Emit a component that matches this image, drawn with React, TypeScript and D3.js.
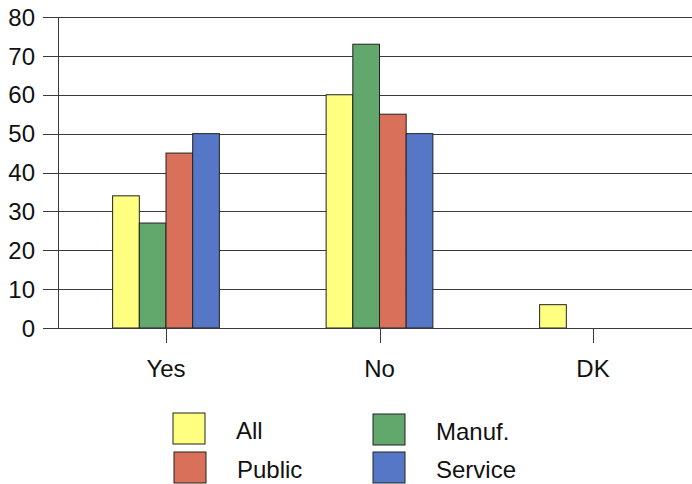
import React from "react";
import * as d3 from "d3";

// Survey responses (%) by sector
const categories = ["Yes", "No", "DK"];
const seriesNames = ["All", "Manuf.", "Public", "Service"];
const allValues = [34, 60, 6];
const manufValues = [27, 73, 0];
const publicValues = [45, 55, 0];
const serviceValues = [50, 50, 0];
const yTicks = [0, 10, 20, 30, 40, 50, 60, 70, 80];

const seriesValues = [allValues, manufValues, publicValues, serviceValues];
const colors = ["#ffff80", "#62a86c", "#d8705a", "#5677c6"];

const W = 692;
const H = 484;
const FONT = "'Liberation Sans', Arial, sans-serif";

export default function App() {
  const axisX = 58.5;
  const y = d3.scaleLinear().domain([0, 80]).range([328, 17]);
  const xCenter = d3.scalePoint<string>().domain(categories).range([166, 593]);
  const step = 593 - 166 > 0 ? (593 - 166) / (categories.length - 1) : 0;
  const groupWidth = step / 2;
  const xSeries = d3
    .scaleBand<string>()
    .domain(seriesNames)
    .range([-groupWidth / 2, groupWidth / 2])
    .padding(0);

  const legendItems = [
    { name: "All", color: colors[0], x: 173, y: 413 },
    { name: "Manuf.", color: colors[1], x: 373, y: 414 },
    { name: "Public", color: colors[2], x: 174, y: 452 },
    { name: "Service", color: colors[3], x: 373, y: 452 },
  ];

  return (
    <svg
      width={W}
      height={H}
      style={{ position: "absolute", left: 0, top: 0, background: "#fff" }}
      fontFamily={FONT}
    >
      {/* horizontal gridlines with left tick stubs */}
      {yTicks.map((t) => (
        <line
          key={`g${t}`}
          x1={43}
          x2={W}
          y1={Math.round(y(t)) + 0.5}
          y2={Math.round(y(t)) + 0.5}
          stroke="#3a3a3a"
          strokeWidth={1}
        />
      ))}
      {/* y tick labels */}
      {yTicks.map((t) => (
        <text
          key={`l${t}`}
          x={35}
          y={y(t)}
          dy="0.36em"
          textAnchor="end"
          fontSize={24}
          fill="#111"
        >
          {t}
        </text>
      ))}
      {/* value axis */}
      <line x1={axisX} x2={axisX} y1={y(80)} y2={y(0)} stroke="#3a3a3a" strokeWidth={1} />

      {/* bars */}
      {categories.map((c, ci) =>
        seriesNames.map((s, si) => {
          const v = seriesValues[si][ci];
          if (v <= 0) return null;
          const x0 = (xCenter(c) as number) + (xSeries(s) as number);
          return (
            <rect
              key={`${c}-${s}`}
              x={x0}
              y={y(v)}
              width={xSeries.bandwidth()}
              height={y(0) - y(v)}
              fill={colors[si]}
              stroke="#222"
              strokeWidth={1}
            />
          );
        })
      )}

      {/* zero baseline on top of bars */}
      <line x1={43} x2={W} y1={Math.round(y(0)) + 0.5} y2={Math.round(y(0)) + 0.5} stroke="#3a3a3a" strokeWidth={1} />

      {/* category ticks and labels */}
      {categories.map((c) => (
        <g key={`c${c}`}>
          <line
            x1={Math.round(xCenter(c) as number) + 0.5}
            x2={Math.round(xCenter(c) as number) + 0.5}
            y1={y(0)}
            y2={y(0) + 15}
            stroke="#3a3a3a"
            strokeWidth={1}
          />
          <text x={xCenter(c)} y={377} textAnchor="middle" fontSize={24} fill="#111">
            {c}
          </text>
        </g>
      ))}

      {/* legend */}
      {legendItems.map((d) => (
        <g key={`lg${d.name}`}>
          <rect x={d.x} y={d.y} width={32} height={31} fill={d.color} stroke="#222" strokeWidth={1} />
          <text x={d.x + 63} y={d.y + 26} fontSize={24} fill="#111">
            {d.name}
          </text>
        </g>
      ))}
    </svg>
  );
}
